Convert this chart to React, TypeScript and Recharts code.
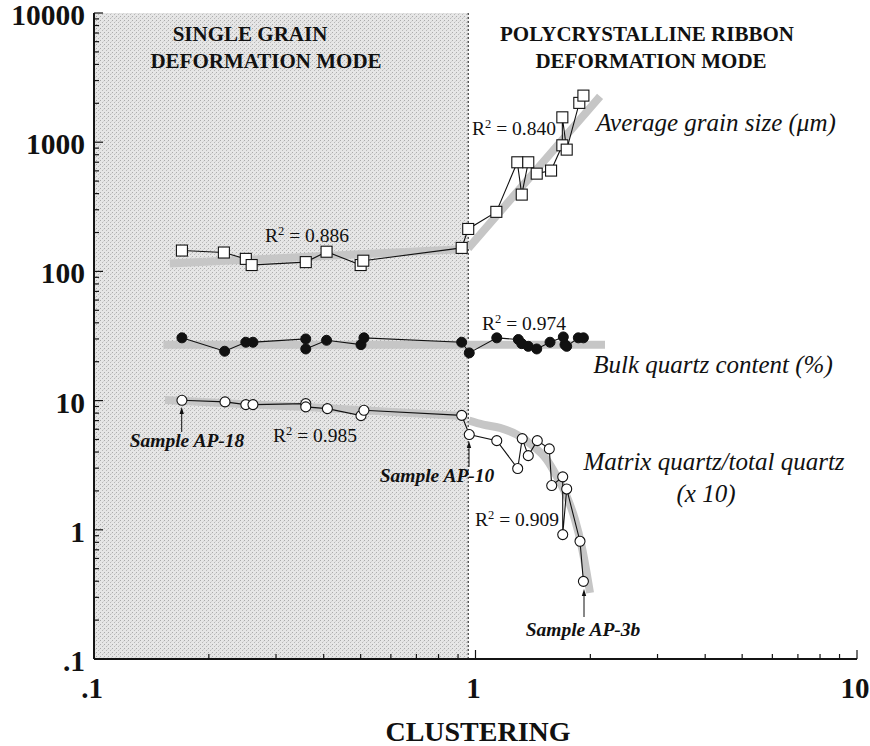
import React from 'react';
import { LineChart, Line, XAxis, YAxis, ReferenceArea, ReferenceLine } from 'recharts';

// ---------- axis ticks ----------
const xTicks = [0.1, 0.2, 0.3, 0.4, 0.5, 0.6, 0.7, 0.8, 0.9, 1, 2, 3, 4, 5, 6, 7, 8, 9, 10];
const xTickLabels: Record<string, string> = { '0.1': '.1', '1': '1', '10': '10' };
const yTicks = [
  0.1, 0.2, 0.3, 0.4, 0.5, 0.6, 0.7, 0.8, 0.9,
  1, 2, 3, 4, 5, 6, 7, 8, 9,
  10, 20, 30, 40, 50, 60, 70, 80, 90,
  100, 200, 300, 400, 500, 600, 700, 800, 900,
  1000, 2000, 3000, 4000, 5000, 6000, 7000, 8000, 9000,
  10000,
];
const yTickLabels: Record<string, string> = {
  '0.1': '.1', '1': '1', '10': '10', '100': '100', '1000': '1000', '10000': '10000',
};

// boundary between deformation modes (clustering)
const boundaryX = 0.957;

// ---------- Average grain size (µm) ----------
const grainX = [0.170, 0.219, 0.250, 0.259, 0.359, 0.407, 0.500, 0.508, 0.920, 0.957, 1.134, 1.287, 1.322, 1.375, 1.447, 1.578, 1.689, 1.689, 1.734, 1.871, 1.918];
const grainY = [145, 140, 125, 112, 118, 142, 112, 121, 152, 213, 289, 699, 393, 699, 571, 603, 946, 1558, 876, 2015, 2294];

// ---------- Bulk quartz content (%) ----------
const bulkX = [0.170, 0.220, 0.250, 0.261, 0.359, 0.359, 0.407, 0.501, 0.510, 0.920, 0.963, 1.137, 1.295, 1.322, 1.375, 1.447, 1.568, 1.699, 1.716, 1.734, 1.860, 1.918];
const bulkY = [30.6, 24.1, 28.3, 28.3, 30.0, 25.1, 29.3, 27.1, 30.6, 28.3, 23.4, 30.6, 29.7, 27.6, 26.3, 25.1, 28.3, 31.1, 27.1, 26.3, 30.6, 30.6];

// ---------- Matrix quartz / total quartz (x10) ----------
const matrixX = [0.170, 0.2205, 0.250, 0.261, 0.359, 0.359, 0.409, 0.501, 0.510, 0.920, 0.963, 1.137, 1.290, 1.326, 1.375, 1.452, 1.561, 1.584, 1.693, 1.693, 1.734, 1.879, 1.918];
const matrixY = [10.05, 9.77, 9.31, 9.31, 9.48, 8.94, 8.67, 7.65, 8.41, 7.69, 5.46, 4.90, 2.98, 5.08, 3.75, 4.90, 4.23, 2.20, 2.57, 0.918, 2.07, 0.815, 0.399];

// ---------- fitted trends (grey bands) ----------
const grainFitLeftX = [0.158, 0.387, 0.948];
const grainFitLeftY = [115, 131, 149];
const grainFitRightX = [0.957, 1.423, 2.121];
const grainFitRightY = [151, 582, 2266];
const bulkFitX = [0.152, 0.75, 2.185];
const bulkFitY = [27.1, 27.1, 27.1];
const matrixFitLeftX = [0.1535, 0.380, 0.948];
const matrixFitLeftY = [10.09, 8.83, 7.56];
const matrixFitRightX = [0.962, 1.048, 1.159, 1.282, 1.418, 1.537, 1.633, 1.734, 1.823, 1.898, 1.956, 1.996];
const matrixFitRightY = [7.00, 6.52, 6.15, 5.46, 4.43, 3.49, 2.59, 1.82, 1.20, 0.745, 0.464, 0.325];

const pts = (xs: number[], ys: number[]) => xs.map((x, i) => ({ x, y: ys[i] }));

const grainData = pts(grainX, grainY);
const bulkData = pts(bulkX, bulkY);
const matrixData = pts(matrixX, matrixY);

const AXIS = '#141414';
const INK = '#111';
const BAND = '#c6c6c6';
const SERIF = "'Liberation Serif', 'Times New Roman', serif";

function BottomTick(props: any) {
  const { x, y, payload } = props;
  const lab = xTickLabels[String(payload.value)];
  const major = lab !== undefined;
  return (
    <g>
      <line x1={x} x2={x} y1={y} y2={y - (major ? 9 : 5)} stroke={AXIS} strokeWidth={1.2} />
      {lab ? (
        <text x={x - 2} y={y + 39} textAnchor="middle" fontFamily={SERIF} fontWeight="bold" fontSize={29} fill={INK}>
          {lab}
        </text>
      ) : null}
    </g>
  );
}

function TopTick(props: any) {
  const { x, y, payload } = props;
  const major = xTickLabels[String(payload.value)] !== undefined;
  return <line x1={x} x2={x} y1={y} y2={y + (major ? 9 : 5)} stroke={AXIS} strokeWidth={1.2} />;
}

function LeftTick(props: any) {
  const { x, y, payload } = props;
  const lab = yTickLabels[String(payload.value)];
  const major = lab !== undefined;
  return (
    <g>
      <line x1={x} x2={x + (major ? 9 : 5)} y1={y} y2={y} stroke={AXIS} strokeWidth={1.2} />
      {lab ? (
        <text x={x - 9} y={y + 12} textAnchor="end" fontFamily={SERIF} fontWeight="bold" fontSize={29.5} fill={INK}>
          {lab}
        </text>
      ) : null}
    </g>
  );
}

function RightTick(props: any) {
  const { x, y, payload } = props;
  const major = yTickLabels[String(payload.value)] !== undefined;
  return <line x1={x} x2={x - (major ? 9 : 5)} y1={y} y2={y} stroke={AXIS} strokeWidth={1.2} />;
}

const squareDot = (p: any) => (
  <rect key={`sq-${p.index}`} x={p.cx - 5.5} y={p.cy - 5.5} width={11} height={11} fill="#fff" stroke={INK} strokeWidth={1.1} />
);
const openDot = (p: any) => (
  <circle key={`oc-${p.index}`} cx={p.cx} cy={p.cy} r={5} fill="#fff" stroke={INK} strokeWidth={1.1} />
);
const filledDot = (p: any) => (
  <circle key={`fc-${p.index}`} cx={p.cx} cy={p.cy} r={5} fill={INK} stroke={INK} strokeWidth={1} />
);

function R2({ x, y, v }: { x: number; y: number; v: string }) {
  return (
    <text x={x} y={y} fontFamily={SERIF} fontSize={19.5} fill={INK}>
      R
      <tspan dy={-7} fontSize={12.5}>2</tspan>
      <tspan dy={7}>{` = ${v}`}</tspan>
    </text>
  );
}

function UpArrow({ x, y1, y2 }: { x: number; y1: number; y2: number }) {
  return (
    <g>
      <line x1={x} x2={x} y1={y1} y2={y2 + 5} stroke={INK} strokeWidth={1} />
      <polygon points={`${x},${y2} ${x - 2.2},${y2 + 7} ${x + 2.2},${y2 + 7}`} fill={INK} />
    </g>
  );
}

export default function App() {
  const italic = { fontFamily: SERIF, fontStyle: 'italic' as const, fontSize: 25, fill: INK };
  const title = { fontFamily: SERIF, fontWeight: 'bold' as const, fontSize: 21, fill: INK };
  const sample = { fontFamily: SERIF, fontWeight: 'bold' as const, fontStyle: 'italic' as const, fontSize: 19.5, fill: INK };
  return (
    <div style={{ position: 'absolute', left: 0, top: 0, width: 870, height: 746, background: '#fff', overflow: 'hidden' }}>
      <svg width={0} height={0} style={{ position: 'absolute' }}>
        <defs>
          <pattern id="stipple" width={4} height={4} patternUnits="userSpaceOnUse">
            <rect width={4} height={4} fill="#e6e6e6" />
            <rect x={0} y={0} width={1} height={1} fill="#ababab" />
            <rect x={2} y={2} width={1} height={1} fill="#b8b8b8" />
            <rect x={3} y={1} width={1} height={1} fill="#d4d4d4" />
          </pattern>
        </defs>
      </svg>
      <LineChart width={870} height={746} margin={{ top: 13, right: 13, bottom: 0, left: 0 }}>
        <XAxis
          type="number"
          dataKey="x"
          scale="log"
          domain={[0.1, 10]}
          allowDataOverflow
          ticks={xTicks}
          interval={0}
          tickSize={0}
          tickMargin={0}
          tickLine={false}
          tick={BottomTick}
          axisLine={{ stroke: AXIS, strokeWidth: 2 }}
          height={87}
        />
        <XAxis
          xAxisId="top"
          orientation="top"
          type="number"
          dataKey="x"
          scale="log"
          domain={[0.1, 10]}
          allowDataOverflow
          ticks={xTicks}
          interval={0}
          tickSize={0}
          tickMargin={0}
          tickLine={false}
          tick={TopTick}
          axisLine={{ stroke: AXIS, strokeWidth: 1.6 }}
          height={0}
        />
        <YAxis
          type="number"
          dataKey="y"
          scale="log"
          domain={[0.1, 10000]}
          allowDataOverflow
          ticks={yTicks}
          interval={0}
          tickSize={0}
          tickMargin={0}
          tickLine={false}
          tick={LeftTick}
          axisLine={{ stroke: AXIS, strokeWidth: 2 }}
          width={94}
        />
        <YAxis
          yAxisId="right"
          orientation="right"
          type="number"
          dataKey="y"
          scale="log"
          domain={[0.1, 10000]}
          allowDataOverflow
          ticks={yTicks}
          interval={0}
          tickSize={0}
          tickMargin={0}
          tickLine={false}
          tick={RightTick}
          axisLine={{ stroke: AXIS, strokeWidth: 1.6 }}
          width={0}
        />
        <ReferenceArea x1={0.1} x2={boundaryX} fill="url(#stipple)" fillOpacity={1} stroke="none" ifOverflow="visible" />
        <ReferenceLine x={boundaryX} stroke={INK} strokeWidth={1} strokeDasharray="2 2" />

        <Line data={pts(grainFitLeftX, grainFitLeftY)} dataKey="y" stroke={BAND} strokeWidth={8} dot={false} isAnimationActive={false} />
        <Line data={pts(grainFitRightX, grainFitRightY)} dataKey="y" stroke={BAND} strokeWidth={8} dot={false} isAnimationActive={false} />
        <Line data={pts(bulkFitX, bulkFitY)} dataKey="y" stroke={BAND} strokeWidth={8} dot={false} isAnimationActive={false} />
        <Line data={pts(matrixFitLeftX, matrixFitLeftY)} dataKey="y" stroke={BAND} strokeWidth={8} dot={false} isAnimationActive={false} />
        <Line data={pts(matrixFitRightX, matrixFitRightY)} dataKey="y" type="monotoneX" stroke={BAND} strokeWidth={8} dot={false} isAnimationActive={false} />

        <Line data={grainData} dataKey="y" stroke={INK} strokeWidth={1.1} dot={squareDot} isAnimationActive={false} />
        <Line data={bulkData} dataKey="y" stroke={INK} strokeWidth={1.1} dot={filledDot} isAnimationActive={false} />
        <Line data={matrixData} dataKey="y" stroke={INK} strokeWidth={1.1} dot={openDot} isAnimationActive={false} />
      </LineChart>

      <svg width={870} height={746} style={{ position: 'absolute', left: 0, top: 0, pointerEvents: 'none' }}>
        <text x={250} y={41} textAnchor="middle" {...title}>SINGLE GRAIN</text>
        <text x={266} y={68} textAnchor="middle" {...title}>DEFORMATION MODE</text>
        <text x={647} y={41} textAnchor="middle" {...title}>POLYCRYSTALLINE RIBBON</text>
        <text x={651} y={68} textAnchor="middle" {...title}>DEFORMATION MODE</text>

        <text x={716} y={131} textAnchor="middle" {...italic}>Average grain size (μm)</text>
        <text x={713} y={373} textAnchor="middle" {...italic}>Bulk quartz content (%)</text>
        <text x={714} y={470} textAnchor="middle" {...italic}>Matrix quartz/total quartz</text>
        <text x={706} y={502} textAnchor="middle" {...italic}>(x 10)</text>

        <R2 x={265} y={242} v="0.886" />
        <R2 x={472} y={135} v="0.840" />
        <R2 x={482} y={330} v="0.974" />
        <R2 x={273} y={442} v="0.985" />
        <R2 x={475} y={526} v="0.909" />

        <UpArrow x={181.7} y1={432} y2={407} />
        <text x={187} y={447} textAnchor="middle" {...sample}>Sample AP-18</text>
        <UpArrow x={469} y1={467} y2={441} />
        <text x={437} y={482} textAnchor="middle" {...sample}>Sample AP-10</text>
        <UpArrow x={584} y1={617} y2={589} />
        <text x={583} y={636} textAnchor="middle" {...sample}>Sample AP-3b</text>

        <text x={478} y={741} textAnchor="middle" fontFamily={SERIF} fontWeight="bold" fontSize={28} fill={INK}>CLUSTERING</text>
      </svg>
    </div>
  );
}
